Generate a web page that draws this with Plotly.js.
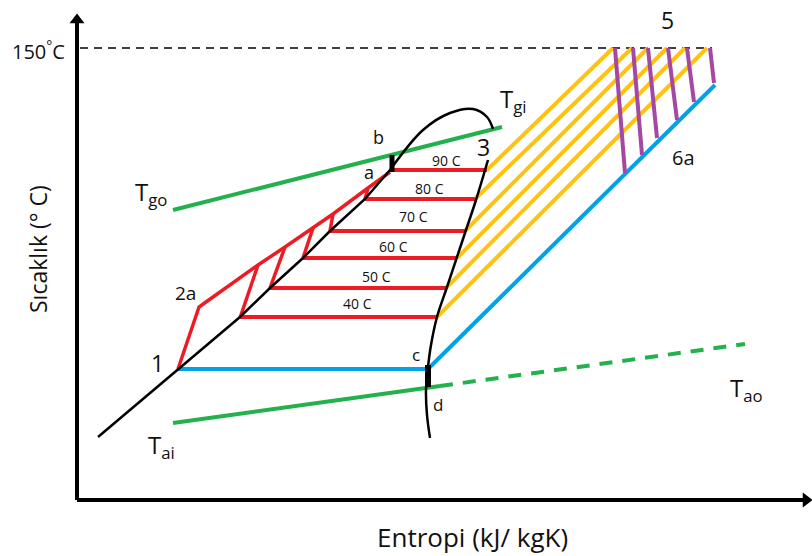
<!DOCTYPE html>
<html>
<head>
<meta charset="utf-8">
<script src="https://cdn.plot.ly/plotly-3.0.1.min.js"></script>
<style>html,body{margin:0;padding:0;background:#fff;}#chart{width:812px;height:556px;}</style>
</head>
<body>
<div id="chart"></div>
<script>
// ---- data (entropy s as horizontal position, temperature T as vertical position, drawing units) ----
const axisS = [77, 77, 77, 806];
const axisT = [20, 500, 500, 500];

const line150S = [80, 712];
const line150T = [48, 48];

// saturated liquid line (black) from bottom-left up to point a
const satLiqS = [98, 178, 240, 270, 303, 330, 365, 390];
const satLiqT = [437, 369, 317, 288, 258, 231, 199, 170];
// dome top
const domeS = [390, 423, 450, 473, 487, 493];
const domeT = [170, 130, 113, 109, 117, 129];
// saturated vapour line (black) from 3 down through c and d
const satVapS = [488, 476, 466, 456, 446, 437, 431, 428, 426, 427, 430];
const satVapT = [160, 200, 230, 260, 290, 317, 345, 367, 390, 415, 438];
// thick c-d segment
const cdS = [428, 428];
const cdT = [365, 387];
// b marker segment
const bS = [392, 392];
const bT = [155, 172];

// isotherm (red) levels
const isoLabels = ['40 C', '50 C', '60 C', '70 C', '80 C', '90 C'];
const isoT = [317, 288, 258, 231, 199, 170];
const isoLeftS = [240, 270, 303, 330, 365, 390];
const isoRightS = [437, 446, 457, 465, 475, 487];
const isoLabelS = [357, 376, 393, 413, 429, 446];
const isoLabelT = [303, 276, 246, 216, 188, 160];

// red compression path 1 -> 2a -> a
const redPathS = [178, 199, 206, 258, 285, 313, 333, 368, 390];
const redPathT = [369, 307, 302, 265, 247, 228, 214, 188, 172];
// red steep connectors (from isotherm left end up to path)
const redStepBotS = [240, 270, 303, 330, 365];
const redStepBotT = [318, 288, 258, 231, 199];
const redStepTopS = [258, 285, 313, 333, 368];
const redStepTopT = [265, 247, 228, 214, 188];

// yellow superheat lines (from vapour line at each isotherm to 150 C), same order as isoT
const yelEndS = [707, 685, 667, 648, 632, 613];
const yelEndT = [48, 48, 48, 48, 48, 48];

// purple lines (150 C down to blue line)
const purTopS = [615, 633, 648, 668, 687, 710];
const purTopT = [48, 48, 48, 48, 48, 48];
const purBotS = [625, 642, 657, 677, 694, 714];
const purBotT = [173, 155, 138, 120, 102, 83];

// blue line 1 -> c -> 6a
const blueS = [178, 428, 715];
const blueT = [369, 369, 85];

// green lines
const tgoS = [173, 502];
const tgoT = [210, 127];
const taiS = [173, 440];
const taiT = [423, 386];
const taoS = [440, 745];
const taoT = [386, 344];

// ---- helpers ----
function segs(x0, y0, x1, y1) {
  const xs = [], ys = [];
  for (let i = 0; i < x0.length; i++) {
    xs.push(x0[i], x1[i], null);
    ys.push(y0[i], y1[i], null);
  }
  return {x: xs, y: ys};
}
function ln(x, y, color, width, dash, shape) {
  return {type: 'scatter', mode: 'lines', x: x, y: y, hoverinfo: 'skip', showlegend: false,
    line: {color: color, width: width, dash: dash || 'solid', shape: shape || 'linear'}};
}

const RED = '#ed1c24', YEL = '#ffc20e', PUR = '#a349a4', BLU = '#00a2e8', GRN = '#22b14c';

const iso = segs(isoLeftS, isoT, isoRightS, isoT);
const steps = segs(redStepBotS, redStepBotT, redStepTopS, redStepTopT);
const yel = segs(isoRightS, isoT, yelEndS, yelEndT);
const pur = segs(purTopS, purTopT, purBotS, purBotT);

const traces = [
  ln(line150S, line150T, '#000', 1.5, '8px,6px'),
  ln(taoS, taoT, GRN, 4, '13px,10px'),
  ln(taiS, taiT, GRN, 4),
  ln(tgoS, tgoT, GRN, 4),
  ln(yel.x, yel.y, YEL, 4),
  ln(blueS, blueT, BLU, 4),
  ln(pur.x, pur.y, PUR, 4),
  ln(iso.x, iso.y, RED, 4),
  ln(steps.x, steps.y, RED, 3.5),
  ln(redPathS, redPathT, RED, 3.5),
  ln(satLiqS, satLiqT, '#000', 2.5),
  ln(domeS, domeT, '#000', 2.5, 'solid', 'spline'),
  ln(satVapS, satVapT, '#000', 2.5, 'solid', 'spline'),
  ln(cdS, cdT, '#000', 6),
  ln(bS, bT, '#000', 5),
  ln([axisS[0], axisS[1]], [axisT[0], axisT[1]], '#000', 4),
  ln([axisS[2], axisS[3]], [axisT[2], axisT[3]], '#000', 4),
  {type: 'scatter', mode: 'markers', x: [77], y: [20], hoverinfo: 'skip', showlegend: false,
   marker: {symbol: 'triangle-up', size: 13, color: '#000'}},
  {type: 'scatter', mode: 'markers', x: [806], y: [500], hoverinfo: 'skip', showlegend: false,
   marker: {symbol: 'triangle-right', size: 13, color: '#000'}}
];

const FONT = 'Open Sans, Liberation Sans, sans-serif';
const TXT = '#111';
function ann(text, x, y, size, extra) {
  return Object.assign({text: text, x: x, y: y, xref: 'x', yref: 'y', showarrow: false,
    xanchor: 'center', yanchor: 'middle', font: {family: FONT, size: size, color: TXT}}, extra || {});
}

const annotations = [
  ann('150<sup>°</sup>C', 38, 50, 20),
  ann('5', 667, 20, 23),
  ann('T<sub>gi</sub>', 513, 100, 24),
  ann('3', 483, 147, 23),
  ann('6a', 683, 157, 20),
  ann('b', 378, 137, 18),
  ann('a', 369, 172, 18),
  ann('T<sub>go</sub>', 151, 193, 24),
  ann('2a', 185, 293, 19),
  ann('1', 157, 363, 23),
  ann('c', 416, 354, 17),
  ann('d', 438, 404, 17),
  ann('T<sub>ai</sub>', 161, 446, 24),
  ann('T<sub>ao</sub>', 746, 389, 24),
  ann('Entropi (kJ/ kgK)', 472, 537, 26),
  ann('Sıcaklık (° C)', 38, 249, 23, {textangle: -90})
];
for (let i = 0; i < isoLabels.length; i++) {
  annotations.push(ann(isoLabels[i], isoLabelS[i], isoLabelT[i], 14));
}

const layout = {
  width: 812, height: 556,
  margin: {l: 0, r: 0, t: 0, b: 0, pad: 0},
  paper_bgcolor: '#fff', plot_bgcolor: '#fff',
  xaxis: {range: [0, 812], visible: false, fixedrange: true},
  yaxis: {range: [556, 0], visible: false, fixedrange: true},
  showlegend: false,
  annotations: annotations
};

Plotly.newPlot('chart', traces, layout, {staticPlot: true, displayModeBar: false});
</script>
</body>
</html>
